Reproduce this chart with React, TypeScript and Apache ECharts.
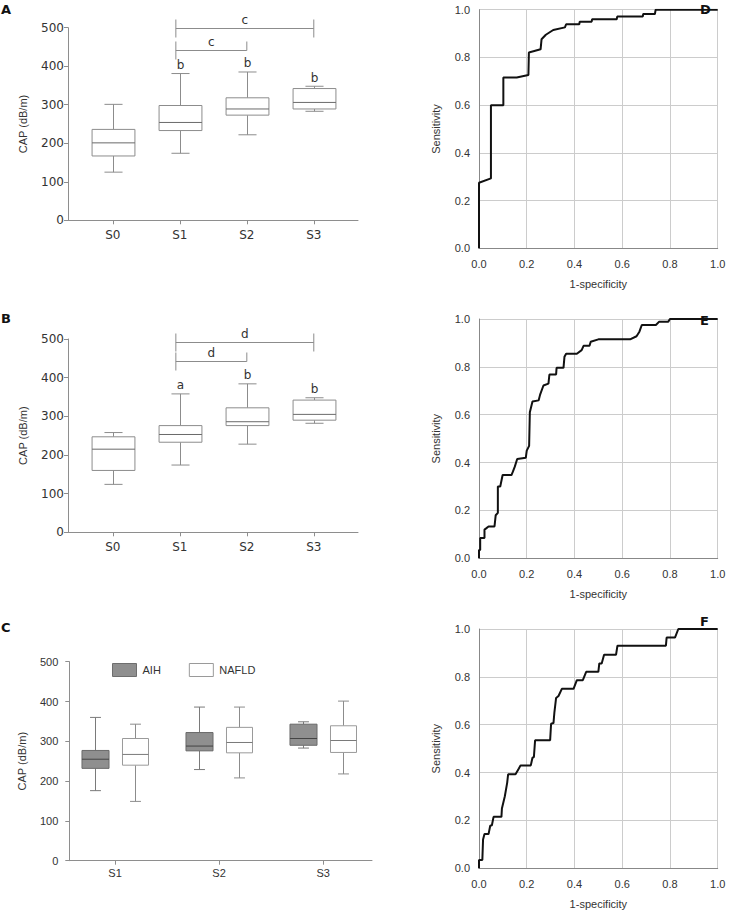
import React, { useEffect, useRef } from 'react';
import * as echarts from 'echarts';

// ---------- data ----------
const stagesAB = ['S0', 'S1', 'S2', 'S3'];
const stagesC = ['S1', 'S2', 'S3'];
const capTicks = [0, 100, 200, 300, 400, 500];
const rocTicks = ['0.0', '0.2', '0.4', '0.6', '0.8', '1.0'];

// [min, Q1, median, Q3, max]
const boxA = [
  [125, 167, 201, 236, 301],
  [174, 233, 254, 298, 381],
  [222, 273, 289, 318, 385],
  [283, 289, 306, 342, 348],
];
const boxB = [
  [124, 160, 215, 247, 258],
  [174, 233, 253, 276, 358],
  [228, 276, 286, 322, 384],
  [282, 290, 305, 342, 348],
];
const aihC = [
  [176, 232, 255, 277, 360],
  [229, 276, 288, 322, 386],
  [283, 290, 307, 343, 349],
];
const nafldC = [
  [149, 240, 267, 307, 343],
  [208, 271, 297, 335, 386],
  [218, 272, 302, 339, 401],
];
const sigA = ['', 'b', 'b', 'b'];
const sigB = ['', 'a', 'b', 'b'];
// [fromCategory, toCategory, y]
const bracketsA = [[1, 3, 498], [1, 2, 443]];
const bracketLabelsA = ['c', 'c'];
const bracketsB = [[1, 3, 493], [1, 2, 442]];
const bracketLabelsB = ['d', 'd'];

const rocD = [
  [0, 0], [0, 0.275], [0.05, 0.293], [0.05, 0.6], [0.102, 0.6], [0.102, 0.716], [0.158, 0.716],
  [0.207, 0.726], [0.209, 0.821], [0.258, 0.834], [0.262, 0.876], [0.28, 0.895], [0.311, 0.915],
  [0.36, 0.926], [0.365, 0.939], [0.42, 0.939], [0.422, 0.95], [0.472, 0.95], [0.474, 0.96],
  [0.577, 0.96], [0.579, 0.971], [0.686, 0.971], [0.688, 0.982], [0.737, 0.982], [0.74, 1], [1, 1],
];
const rocE = [
  [0, 0], [0, 0.035], [0.005, 0.035], [0.005, 0.085], [0.023, 0.085], [0.023, 0.12], [0.03, 0.125],
  [0.04, 0.133], [0.065, 0.133], [0.07, 0.18], [0.079, 0.19], [0.079, 0.3], [0.089, 0.3],
  [0.099, 0.348], [0.136, 0.348], [0.142, 0.362], [0.15, 0.383], [0.16, 0.415], [0.196, 0.42],
  [0.2, 0.45], [0.21, 0.47], [0.213, 0.61], [0.224, 0.655], [0.25, 0.66], [0.256, 0.684],
  [0.27, 0.722], [0.291, 0.73], [0.295, 0.768], [0.323, 0.768], [0.325, 0.796], [0.354, 0.796],
  [0.358, 0.842], [0.365, 0.855], [0.41, 0.855], [0.43, 0.87], [0.438, 0.888], [0.463, 0.888],
  [0.468, 0.905], [0.5, 0.915], [0.633, 0.915], [0.66, 0.928], [0.672, 0.947], [0.682, 0.975],
  [0.741, 0.975], [0.755, 0.989], [0.793, 0.989], [0.8, 1], [1, 1],
];
const rocF = [
  [0, 0], [0, 0.035], [0.014, 0.035], [0.017, 0.12], [0.023, 0.143], [0.04, 0.143], [0.047, 0.178],
  [0.054, 0.18], [0.061, 0.215], [0.094, 0.215], [0.096, 0.25], [0.108, 0.3], [0.118, 0.357],
  [0.122, 0.393], [0.153, 0.393], [0.167, 0.417], [0.174, 0.43], [0.217, 0.43], [0.224, 0.462],
  [0.23, 0.465], [0.235, 0.535], [0.298, 0.535], [0.302, 0.604], [0.312, 0.607], [0.316, 0.653],
  [0.323, 0.712], [0.333, 0.72], [0.347, 0.75], [0.396, 0.75], [0.41, 0.786], [0.435, 0.786],
  [0.449, 0.821], [0.5, 0.821], [0.504, 0.856], [0.514, 0.856], [0.524, 0.892], [0.574, 0.892],
  [0.58, 0.93], [0.783, 0.93], [0.786, 0.964], [0.821, 0.964], [0.835, 1], [1, 1],
];

// ---------- styles ----------
const SANS = '"Liberation Sans", Arial, sans-serif';
const WIDE = '"DejaVu Sans", Verdana, sans-serif';
const TXT = '#333';
const AX = '#8e8e8e';

function boxRender(opts: any) {
  return (params: any, api: any) => {
    const xc = api.value(0) + opts.offset;
    const pMin = api.coord([xc, api.value(1)]);
    const yQ1 = api.coord([xc, api.value(2)])[1];
    const yMed = api.coord([xc, api.value(3)])[1];
    const yQ3 = api.coord([xc, api.value(4)])[1];
    const yMax = api.coord([xc, api.value(5)])[1];
    const cx = Math.round(pMin[0]) + 0.5;
    const hb = api.size([opts.boxW, 0])[0] / 2;
    const hc = api.size([opts.capW, 0])[0] / 2;
    const ls = { stroke: opts.stroke, lineWidth: 1 };
    const children: any[] = [
      { type: 'line', shape: { x1: cx, y1: yMax, x2: cx, y2: yQ3 }, style: ls },
      { type: 'line', shape: { x1: cx, y1: yQ1, x2: cx, y2: pMin[1] }, style: ls },
      { type: 'line', shape: { x1: cx - hc, y1: yMax, x2: cx + hc, y2: yMax }, style: ls },
      { type: 'line', shape: { x1: cx - hc, y1: pMin[1], x2: cx + hc, y2: pMin[1] }, style: ls },
      {
        type: 'rect',
        shape: { x: cx - hb, y: yQ3, width: 2 * hb, height: yQ1 - yQ3 },
        style: { fill: opts.fill, stroke: opts.boxStroke, lineWidth: 1 },
      },
      {
        type: 'line',
        shape: { x1: cx - hb, y1: yMed, x2: cx + hb, y2: yMed },
        style: { stroke: opts.medStroke, lineWidth: 1 },
      },
    ];
    const lab = opts.labels ? opts.labels[params.dataIndex] : '';
    if (lab) {
      children.push({
        type: 'text',
        x: cx,
        y: yMax - 8.5,
        style: { text: lab, fill: TXT, fontSize: 12, fontFamily: WIDE, align: 'center', verticalAlign: 'middle' },
      });
    }
    return { type: 'group', children };
  };
}

function bracketRender(labels: string[]) {
  return (params: any, api: any) => {
    const p1 = api.coord([api.value(0), api.value(2)]);
    const x2 = api.coord([api.value(1), api.value(2)])[0];
    const x1 = p1[0] - 4;
    const y = Math.round(p1[1]) + 0.5;
    const st = { stroke: '#8c8c8c', lineWidth: 1 };
    const belowR = params.dataIndex === 0 ? 9 : 0;
    return {
      type: 'group',
      children: [
        { type: 'line', shape: { x1, y1: y, x2, y2: y }, style: st },
        { type: 'line', shape: { x1, y1: y - 9, x2: x1, y2: y + 9 }, style: st },
        { type: 'line', shape: { x1: x2, y1: y - 9, x2, y2: y + belowR }, style: st },
        {
          type: 'text',
          x: (x1 + x2) / 2,
          y: y - 9,
          style: { text: labels[params.dataIndex], fill: TXT, fontSize: 12, fontFamily: WIDE, align: 'center', verticalAlign: 'middle' },
        },
      ],
    };
  };
}

function boxXAxis(grid: number, cats: string[], min: number, max: number, font: string, size: number, margin: number) {
  const vals = cats.map((_, i) => i);
  return {
    type: 'value', gridIndex: grid, min, max,
    axisLine: { show: true, onZero: false, lineStyle: { color: AX } },
    axisTick: { show: true, length: 4, customValues: vals, lineStyle: { color: AX } },
    axisLabel: {
      customValues: vals, margin, color: TXT, fontFamily: font, fontSize: size,
      formatter: (v: number) => cats[Math.round(v)] ?? '',
    },
    splitLine: { show: false },
  };
}

function capYAxis(grid: number, font: string, size: number, margin: number, nameGap: number) {
  return {
    type: 'value', gridIndex: grid, min: capTicks[0], max: capTicks[capTicks.length - 1], interval: 100,
    axisLine: { show: true, onZero: false, lineStyle: { color: AX } },
    axisTick: { show: true, length: 4, lineStyle: { color: AX } },
    axisLabel: { margin, color: TXT, fontFamily: font, fontSize: size },
    splitLine: { show: false },
    name: 'CAP (dB/m)', nameLocation: 'middle', nameGap,
    nameTextStyle: { color: TXT, fontFamily: SANS, fontSize: 11 },
  };
}

function rocXAxis(grid: number) {
  return {
    type: 'value', gridIndex: grid, min: 0, max: 1, interval: 0.2,
    axisLine: { show: true, onZero: false, lineStyle: { color: '#888' } },
    axisTick: { show: false },
    splitLine: { show: true, lineStyle: { color: '#cccccc' } },
    axisLabel: { margin: 10, color: TXT, fontFamily: SANS, fontSize: 11, formatter: (v: number) => rocTicks[Math.round(v * 5)] },
    name: '1-specificity', nameLocation: 'middle', nameGap: 30,
    nameTextStyle: { color: TXT, fontFamily: SANS, fontSize: 11 },
  };
}
function rocYAxis(grid: number) {
  return {
    type: 'value', gridIndex: grid, min: 0, max: 1, interval: 0.2,
    axisLine: { show: true, onZero: false, lineStyle: { color: '#888' } },
    axisTick: { show: false },
    splitLine: { show: true, lineStyle: { color: '#cccccc' } },
    axisLabel: { margin: 9, color: TXT, fontFamily: SANS, fontSize: 11, formatter: (v: number) => rocTicks[Math.round(v * 5)] },
    name: 'Sensitivity', nameLocation: 'middle', nameGap: 38,
    nameTextStyle: { color: TXT, fontFamily: SANS, fontSize: 11 },
  };
}

const letter = (t: string, x: number, y: number) => ({
  type: 'text', x, y,
  style: { text: t, fill: '#111', fontSize: 13, fontWeight: 'bold', fontFamily: WIDE, align: 'left', verticalAlign: 'middle' },
});

export default function App() {
  const ref = useRef<HTMLDivElement>(null);
  useEffect(() => {
    if (!ref.current) return;
    const chart = echarts.init(ref.current, null, { renderer: 'svg' });
    const abStyle = { stroke: '#8c8c8c', boxStroke: '#8c8c8c', medStroke: '#6a6a6a', fill: '#fff', boxW: 0.64, capW: 0.27, offset: 0 };
    const option: any = {
      animation: false,
      backgroundColor: '#fff',
      grid: [
        { left: 68, top: 27.7, width: 290, height: 192.6 },
        { left: 68, top: 339, width: 290, height: 193.3 },
        { left: 69.3, top: 661.7, width: 302.7, height: 199 },
        { left: 479, top: 9.7, width: 238.7, height: 238.6 },
        { left: 479, top: 319, width: 238.7, height: 239.3 },
        { left: 479, top: 629, width: 238.7, height: 239.3 },
      ],
      xAxis: [
        boxXAxis(0, stagesAB, -0.67, 3.66, WIDE, 12, 9),
        boxXAxis(1, stagesAB, -0.67, 3.66, WIDE, 12, 9),
        boxXAxis(2, stagesC, -0.44, 2.47, SANS, 11, 7),
        rocXAxis(3), rocXAxis(4), rocXAxis(5),
      ],
      yAxis: [
        capYAxis(0, WIDE, 12, 4, 40),
        capYAxis(1, WIDE, 12, 4, 40),
        capYAxis(2, SANS, 11, 11, 42),
        rocYAxis(3), rocYAxis(4), rocYAxis(5),
      ],
      legend: {
        data: [
          { name: 'AIH', itemStyle: { color: '#8f8f8f', borderColor: '#6e6e6e', borderWidth: 1 } },
          { name: 'NAFLD', itemStyle: { color: '#ffffff', borderColor: '#9a9a9a', borderWidth: 1 } },
        ],
        left: 112, top: 663, padding: 0, icon: 'rect', itemWidth: 24, itemHeight: 13, itemGap: 28,
        selectedMode: false,
        textStyle: { color: TXT, fontFamily: SANS, fontSize: 11, padding: [0, 0, 0, 1] },
      },
      graphic: [
        letter('A', 1, 9.5), letter('B', 1, 318.3), letter('C', 1, 627.7),
        letter('D', 700, 9), letter('E', 700, 320), letter('F', 700, 621),
      ],
      series: [
        {
          type: 'custom', name: 'boxA', xAxisIndex: 0, yAxisIndex: 0,
          data: boxA.map((b, i) => [i, ...b]), encode: { x: 0, y: [1, 2, 3, 4, 5] },
          renderItem: boxRender({ ...abStyle, labels: sigA }), silent: true,
        },
        {
          type: 'custom', name: 'brA', xAxisIndex: 0, yAxisIndex: 0,
          data: bracketsA, encode: { x: [0, 1], y: 2 },
          renderItem: bracketRender(bracketLabelsA), silent: true,
        },
        {
          type: 'custom', name: 'boxB', xAxisIndex: 1, yAxisIndex: 1,
          data: boxB.map((b, i) => [i, ...b]), encode: { x: 0, y: [1, 2, 3, 4, 5] },
          renderItem: boxRender({ ...abStyle, labels: sigB }), silent: true,
        },
        {
          type: 'custom', name: 'brB', xAxisIndex: 1, yAxisIndex: 1,
          data: bracketsB, encode: { x: [0, 1], y: 2 },
          renderItem: bracketRender(bracketLabelsB), silent: true,
        },
        {
          type: 'custom', name: 'AIH', xAxisIndex: 2, yAxisIndex: 2,
          itemStyle: { color: '#8f8f8f' },
          data: aihC.map((b, i) => [i, ...b]), encode: { x: 0, y: [1, 2, 3, 4, 5] },
          renderItem: boxRender({ stroke: '#7a7a7a', boxStroke: '#6a6a6a', medStroke: '#444', fill: '#8f8f8f', boxW: 0.26, capW: 0.105, offset: -0.195 }),
          silent: true,
        },
        {
          type: 'custom', name: 'NAFLD', xAxisIndex: 2, yAxisIndex: 2,
          itemStyle: { color: '#ffffff' },
          data: nafldC.map((b, i) => [i, ...b]), encode: { x: 0, y: [1, 2, 3, 4, 5] },
          renderItem: boxRender({ stroke: '#8c8c8c', boxStroke: '#9a9a9a', medStroke: '#7a7a7a', fill: '#fff', boxW: 0.25, capW: 0.105, offset: 0.19 }),
          silent: true,
        },
        { type: 'line', name: 'rocD', xAxisIndex: 3, yAxisIndex: 3, data: rocD, symbol: 'none', lineStyle: { color: '#111', width: 2 }, silent: true },
        { type: 'line', name: 'rocE', xAxisIndex: 4, yAxisIndex: 4, data: rocE, symbol: 'none', lineStyle: { color: '#111', width: 2 }, silent: true },
        { type: 'line', name: 'rocF', xAxisIndex: 5, yAxisIndex: 5, data: rocF, symbol: 'none', lineStyle: { color: '#111', width: 2 }, silent: true },
      ],
    };
    chart.setOption(option);
    return () => chart.dispose();
  }, []);
  return (
    <div
      ref={ref}
      style={{ position: 'absolute', left: 0, top: 0, width: 730, height: 911, background: '#fff' }}
    />
  );
}
